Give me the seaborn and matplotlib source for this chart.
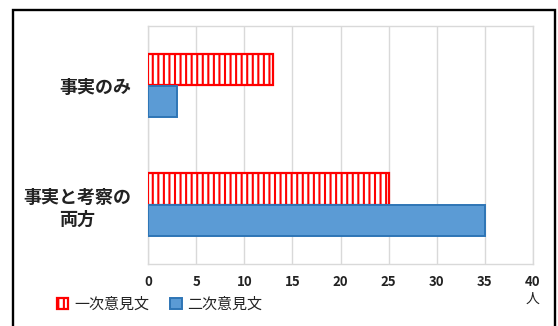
import matplotlib
matplotlib.use("Agg")
import matplotlib.pyplot as plt
import seaborn as sns
import pandas as pd
from matplotlib.patches import Patch, Rectangle

categories = ["事実のみ", "事実と考察の\n両方"]
series_names = ["一次意見文", "二次意見文"]
values_first = [13, 25]
values_second = [3, 35]
x_ticks = [0, 5, 10, 15, 20, 25, 30, 35, 40]
unit_label = "人"

df = pd.DataFrame({
    "category": categories * 2,
    "series": [series_names[0]] * 2 + [series_names[1]] * 2,
    "value": values_first + values_second,
})

sns.set_theme(style="white")
plt.rcParams["font.family"] = ["Noto Sans CJK JP", "DejaVu Sans"]
plt.rcParams["hatch.linewidth"] = 1.5

fig = plt.figure(figsize=(5.58, 3.26), dpi=100)
ax = fig.add_axes([148 / 558, 1 - 264 / 326, (533 - 148) / 558, (264 - 26) / 326])

sns.barplot(data=df, x="value", y="category", hue="series", orient="h",
            order=categories, hue_order=series_names, width=0.53,
            palette=["#FFFFFF", "#5B9BD5"], ax=ax, legend=False, zorder=3)

red = "#FF0000"
blue_edge = "#2E75B6"
for p in ax.containers[0]:
    p.set_facecolor("white")
    p.set_edgecolor(red)
    p.set_hatch("|||")
    p.set_linewidth(1.6)
for p in ax.containers[1]:
    p.set_facecolor("#5B9BD5")
    p.set_edgecolor(blue_edge)
    p.set_linewidth(1.4)

ax.set_xlim(0, 40)
ax.set_ylim(1.5, -0.5)
ax.set_xticks(x_ticks)
ax.set_xticklabels([str(t) for t in x_ticks], fontsize=9.5, fontweight="bold", color="#222222")
ax.set_yticks(range(len(categories)))
ax.set_yticklabels(categories, fontsize=13, fontweight="bold", color="#222222",
                   multialignment="center", linespacing=1.2)
ax.tick_params(axis="x", length=0, pad=8)
ax.tick_params(axis="y", length=0, pad=12)
ax.set_xlabel("")
ax.set_ylabel("")
ax.grid(axis="x", color="#D9D9D9", linewidth=1, zorder=0)
ax.grid(axis="y", visible=False)
ax.set_axisbelow(True)
for s in ax.spines.values():
    s.set_color("#D9D9D9")
    s.set_linewidth(1)

fig.text(533 / 558, 1 - 299 / 326, unit_label, ha="center", va="center",
         fontsize=10, color="#222222")

handles = [
    Patch(facecolor="white", edgecolor=red, hatch="|||", linewidth=1.6, label=series_names[0]),
    Patch(facecolor="#5B9BD5", edgecolor=blue_edge, linewidth=1.4, label=series_names[1]),
]
fig.legend(handles=handles, loc="center left", bbox_to_anchor=(57 / 558, 1 - 305 / 326),
           ncol=2, frameon=False, fontsize=10.8, handlelength=0.75, handleheight=0.75,
           handletextpad=0.4, columnspacing=1.4, borderpad=0, borderaxespad=0,
           labelcolor="#222222")

fig.patches.append(Rectangle((13 / 558, -0.1), (555 - 13) / 558, (1 - 10 / 326) + 0.1,
                             transform=fig.transFigure, fill=False, edgecolor="black",
                             linewidth=1.7, figure=fig))

fig.savefig("out.png", dpi=100)
